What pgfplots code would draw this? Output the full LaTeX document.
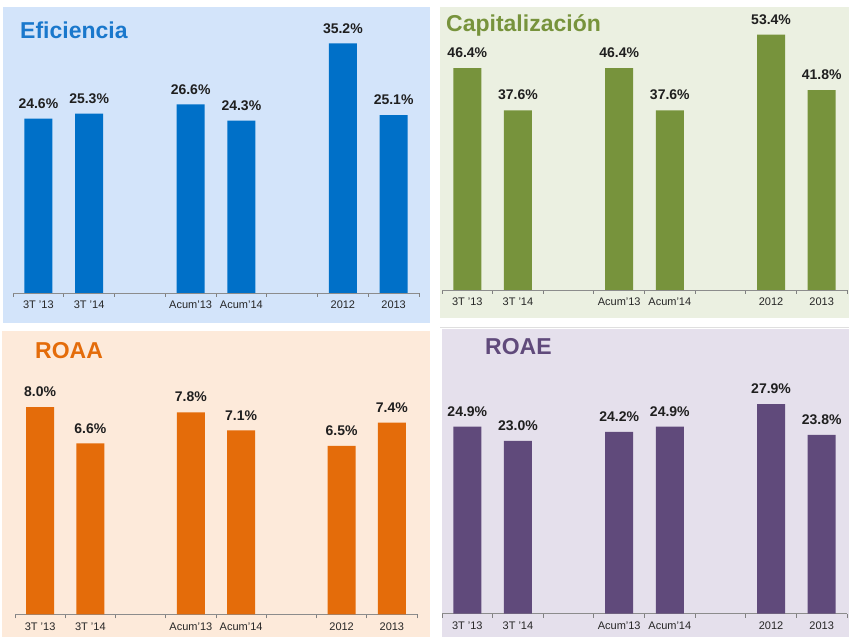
\documentclass[border=0pt]{standalone}
\usepackage{pgfplots}
\pgfplotsset{compat=1.18}
\usepackage{fontspec}
\setmainfont{Liberation Sans}
\definecolor{bgA}{HTML}{D3E4FA}
\definecolor{bgB}{HTML}{EBF0E1}
\definecolor{bgC}{HTML}{FDEADA}
\definecolor{bgD}{HTML}{E5E0EC}
\definecolor{cA}{HTML}{0070C8}
\definecolor{cB}{HTML}{77933C}
\definecolor{cC}{HTML}{E46C0A}
\definecolor{cD}{HTML}{604A7B}
\definecolor{tA}{HTML}{1A78CC}
\pgfplotsset{panel/.style={
  scale only axis, ybar, bar width=28bp, ymin=0,
  xmin=-0.5, xmax=7.5, enlargelimits=false, clip=false,
  axis x line*=bottom, axis y line=none,
  xtick={0,1,3,4,6,7},
  xticklabels={3T '13,3T '14,Acum'13,Acum'14,2012,2013},
  major tick length=0pt,
  minor xtick={-0.5,0.5,...,7.5},
  minor tick length=4bp, tick align=outside,
  tick style={draw=gray, line width=0.8bp},
  axis line style={draw=gray!90, line width=0.8bp},
  xticklabel style={font=\fontsize{11bp}{13bp}\selectfont, text=black!85, inner sep=0pt, anchor=north, yshift=-8bp},
  /pgf/number format/assume math mode=true,
  nodes near coords={\pgfmathprintnumber[fixed,fixed zerofill,precision=1]{\pgfplotspointmeta}\%},
  every node near coord/.append style={font=\fontsize{14bp}{16bp}\selectfont\bfseries, anchor=south, inner sep=0pt, yshift=10bp, text=black!88},
}}
\begin{document}
\begin{tikzpicture}
\useasboundingbox (0bp,0bp) rectangle (849bp,637bp);
% panel backgrounds
\fill[bgA] (3bp,314bp) rectangle (430bp,630bp);
\fill[bgB] (440bp,319bp) rectangle (849bp,630bp);
\fill[bgC] (2bp,0bp) rectangle (430bp,306bp);
\fill[bgD] (442bp,0bp) rectangle (849bp,308bp);
\draw[gray!25, line width=0.8bp] (440bp,310bp) -- (849bp,310bp);
% titles
\node[anchor=base west, inner sep=0pt, text=tA, font=\fontsize{23bp}{26bp}\selectfont\bfseries] at (20bp,598bp) {Eficiencia};
\node[anchor=base west, inner sep=0pt, text=cB, font=\fontsize{23bp}{26bp}\selectfont\bfseries] at (446bp,605.3bp) {Capitalización};
\node[anchor=base west, inner sep=0pt, text=cC, font=\fontsize{23bp}{26bp}\selectfont\bfseries] at (35bp,278.7bp) {ROAA};
\node[anchor=base west, inner sep=0pt, text=cD, font=\fontsize{23bp}{26bp}\selectfont\bfseries] at (485bp,282.7bp) {ROAE};
% Eficiencia
\begin{axis}[panel, at={(13bp,344bp)}, anchor=south west, width=406bp, height=283.6bp, ymax=40]
\addplot[fill=cA, draw=none] coordinates {(0,24.6) (1,25.3) (3,26.6) (4,24.3) (6,35.2) (7,25.1)};
\end{axis}
% Capitalizacion
\begin{axis}[panel, at={(442bp,347bp)}, anchor=south west, width=405bp, height=262.9bp, ymax=55]
\addplot[fill=cB, draw=none] coordinates {(0,46.4) (1,37.6) (3,46.4) (4,37.6) (6,53.4) (7,41.8)};
\end{axis}
% ROAA
\begin{axis}[panel, at={(15bp,22.7bp)}, anchor=south west, width=402bp, height=259bp, ymax=10]
\addplot[fill=cC, draw=none] coordinates {(0,8.0) (1,6.6) (3,7.8) (4,7.1) (6,6.5) (7,7.4)};
\end{axis}
% ROAE
\begin{axis}[panel, at={(442bp,23.5bp)}, anchor=south west, width=405bp, height=225bp, ymax=30]
\addplot[fill=cD, draw=none] coordinates {(0,24.9) (1,23.0) (3,24.2) (4,24.9) (6,27.9) (7,23.8)};
\end{axis}
\end{tikzpicture}
\end{document}
